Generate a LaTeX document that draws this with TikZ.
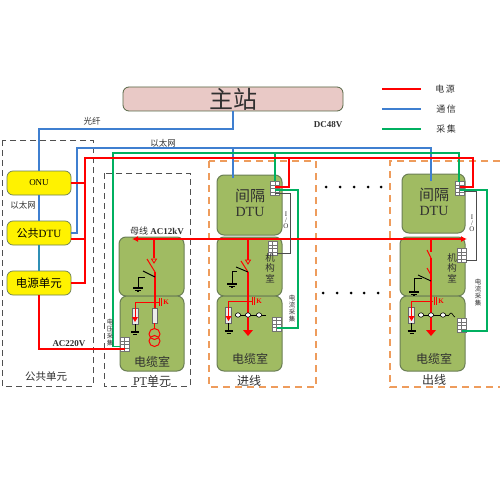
\documentclass[tikz,border=0pt]{standalone}
\usepackage{fontspec}
\setmainfont{Liberation Serif}
\newfontfamily\cjk{Noto Sans CJK SC}
\usetikzlibrary{arrows.meta,calc}
\definecolor{cred}{HTML}{FF0000}
\definecolor{cblue}{HTML}{3F7FD0}
\definecolor{cteal}{HTML}{2F8FB5}
\definecolor{cgreen}{HTML}{00B060}
\definecolor{cpink}{HTML}{E9C9C6}
\definecolor{croom}{HTML}{A0BB62}
\definecolor{croomd}{HTML}{6B7F55}
\definecolor{corange}{HTML}{EE9C5C}
\definecolor{cdash}{HTML}{505050}
\definecolor{ctxt}{HTML}{303030}
\tikzset{
  x=1pt,y=-1pt,
  lab/.style={inner sep=0pt,text=ctxt,font=\cjk\fontsize{#1}{#1}\selectfont},
  lab/.default=9,
  lat/.style={inner sep=0pt,text=ctxt,font=\bfseries\fontsize{#1}{#1}\selectfont},
  lat/.default=9,
  ybox/.style={draw=croomd,fill=yellow,rounded corners=6pt,inner sep=0pt,minimum width=64pt,minimum height=24pt,text=black,line width=.7pt},
  room/.style={draw=croomd,fill=croom,rounded corners=7pt,line width=1pt},
  master/.style={draw=croomd!80!black,fill=cpink,rounded corners=6pt,line width=.8pt,inner sep=0pt,minimum width=220pt,minimum height=24pt},
  grp/.style={draw=cdash,dash pattern=on 6pt off 4pt,line width=1pt},
  ogrp/.style={draw=corange,dash pattern=on 7pt off 5pt,line width=1.2pt},
  rl/.style={draw=cred,line width=1.5pt},
  rlthin/.style={draw=cred,line width=1pt},
  bl/.style={draw=cblue,line width=1.4pt},
  gl/.style={draw=cgreen,line width=1.4pt},
  gyl/.style={draw=black!70,line width=.9pt},
  blk/.style={draw=black,line width=.9pt},
  tblock/.style={draw=black!55,fill=white,inner sep=0pt,minimum width=9pt,minimum height=14pt,line width=.5pt,
    path picture={
      \foreach \f in {.25,.5,.75}{
        \draw[black!55,line width=1pt] ($(path picture bounding box.north west)!\f!(path picture bounding box.south west)$) -- ($(path picture bounding box.north east)!\f!(path picture bounding box.south east)$);}
      \draw[black!55,line width=1pt] (path picture bounding box.north) -- (path picture bounding box.south);
    }},
  arr/.style={draw=black!60,fill=black!8,line width=.7pt},
  ball/.style={draw=black,fill=white,line width=.6pt},
  dotn/.style={circle,fill=black,inner sep=0pt,minimum size=3pt}
}
\newcommand{\gnd}[2]{%
  \draw[blk,line width=1.1pt] (#1-5,#2) -- (#1+5,#2);
  \draw[blk] (#1-3,#2+2) -- (#1+3,#2+2);
  \draw[blk] (#1-1,#2+3.5) -- (#1+1,#2+3.5);}
\newcommand{\arrester}[3]{% x, top, bottom
  \draw[arr] (#1-3,#2) rectangle (#1+3,#3);
  \fill[cred] (#1-3,#2+9) -- (#1+3,#2+9) -- (#1,#2+14) -- cycle;
  \draw[rlthin] (#1,#2-6) -- (#1,#2+10);
  \draw[blk] (#1,#3) -- (#1,#3+8);
  \draw[blk,line width=1.1pt] (#1-4,#3+8) -- (#1+4,#3+8);
  \draw[blk] (#1-2,#3+10) -- (#1+2,#3+10);}
\newcommand{\ikmark}[2]{%
  \draw[rlthin] (#1,#2-4) -- (#1,#2+4);
  \draw[rlthin] (#1+2.5,#2-4) -- (#1+2.5,#2+4);
  \node[inner sep=0pt,text=cred,font=\bfseries\fontsize{7}{7}\selectfont] (ik#1) at (#1+7,#2) {K};}
\newcommand{\ballrow}[1]{%
  \foreach \bx in {#1}{\draw[ball] (\bx,315) ellipse (2.6pt and 2.2pt);}}
\begin{document}
\begin{tikzpicture}
\useasboundingbox (0,0) rectangle (500,500);
\fill[white] (0,0) rectangle (500,500);

% groups
\draw[grp] (2,140) rectangle (93,386);
\draw[grp] (104,173) rectangle (190,386);
\draw[ogrp] (209,161) rectangle (316,387);
\draw[ogrp] (500,161) -- (390,161) -- (390,387) -- (500,387);

% rooms
\node[master] (ms) at (233,99) {\cjk\fontsize{24}{24}\selectfont\textcolor{ctxt}{主站}};
\node[ybox] (onu) at (39,183) {\fontsize{9}{9}\selectfont ONU};
\node[ybox] (pdtu) at (39,233) {\fontsize{11}{11}\selectfont{\cjk 公共}DTU};
\node[ybox] (psu) at (39,283) {\cjk\fontsize{11.5}{11.5}\selectfont 电源单元};

\draw[room] (119,237) rectangle (184,296);
\draw[room] (120,296) rectangle (184,371);
\draw[room] (217,175) rectangle (282,235);
\draw[room] (217,237) rectangle (282,296);
\draw[room] (217,296) rectangle (282,371);
\draw[room] (402,174) rectangle (465,233);
\draw[room] (400,237) rectangle (465,296);
\draw[room] (400,296) rectangle (465,371);

% terminal blocks
\node[tblock] (tpt) at (124.5,344.5) {};
\node[tblock] (t1a) at (275,188.5) {};
\node[tblock] (t1b) at (272.5,248.5) {};
\node[tblock] (t1c) at (276.5,324) {};
\node[tblock] (t2a) at (459.5,188.5) {};
\node[tblock] (t2b) at (461.5,255.5) {};
\node[tblock] (t2c) at (461.5,325.5) {};

% named junctions
\coordinate (dtu1) at (233,178);
\coordinate (dtu2) at (431,181);

% blue
\draw[bl] (onu.north) |- (233,129) -- (ms.south);
\draw[bl] (pdtu.east) -- (77,233) -- (77,148) -- (431,148) -- (dtu2);
\draw[bl] (233,148) -- (dtu1);
\draw[draw=cblue,line width=1.4pt] (onu.south) -- (pdtu.north);
\draw[draw=cteal,line width=1.4pt] (pdtu.south) -- (psu.north);

% green
\draw[gl] (tpt.west |- 0,346.5) -- (113,346.5) -- (113,153) -- (459,153) -- (459,182);
\draw[gl] (275,153) -- (t1a.north);
\draw[gl] (t1a.center |- 0,190) -- (298,190) -- (298,328) -- (t1c.center |- 0,328);
\draw[gl] (t2a.center |- 0,190) -- (487,190) -- (487,331) -- (t2c.center |- 0,331);

% red
\draw[rl,line width=1.8pt] (psu.east) -- (85,283) -- (85,158) -- (473,158) -- (473,187) -- (t2a.center |- 0,187);
\draw[rl,line width=1.8pt] (289,158) -- (289,187) -- (t1a.center |- 0,187);
\draw[rl] (onu.east) -- (85,183);
\draw[rl] (pdtu.east |- 0,239) -- (85,239);
\draw[rl] (psu.south) -- (39,349) -- (tpt.center |- 0,349);

% bus
\draw[rl,-{Latex[length=6pt,width=6pt]}] (193,239) -- (132,239);
\draw[rl,-{Latex[length=6pt,width=6pt]}] (193,239) -- (467,239);

% grey I/O wires
\draw[gyl] (t1a.center |- 0,193) -- (290,193) -- (290,253) -- (t1b.east |- 0,253);
\draw[gyl] (t2a.east |- 0,191) -- (476.5,191) -- (476.5,260) -- (t2b.east |- 0,260);

% PT cell
\draw[rlthin,line width=1.2pt] (154,239) -- (154,258);
\draw[cred,line width=.8pt,fill=croom] (151.5,259) -- (156.5,259) -- (154,263) -- cycle;
\draw[cred,line width=1pt] (147,259) -- (155,272);
\draw[rlthin,line width=1.2pt] (155,272) -- (155,308);
\draw[blk] (143,271) -- (155,277);
\draw[blk] (145,277) -- (138,277) -- (138,287);
\gnd{138}{288}
\draw[rlthin] (135,302) -- (159,302);
\ikmark{159}{302}
\arrester{135}{308}{324}
\draw[arr] (152,308) rectangle (157.5,323);
\draw[rlthin] (154.5,323) -- (154.5,328);
\draw[cred,line width=1pt] (154.5,334) circle (5.5pt);
\draw[cred,line width=1pt] (154.5,341) circle (5.5pt);

% incoming cell
\draw[rlthin,line width=1.2pt] (248,239) -- (248,260);
\draw[cred,line width=.8pt,fill=croom] (245.5,260) -- (250.5,260) -- (248,264) -- cycle;
\draw[cred,line width=1pt] (241,261) -- (248,272);
\draw[rlthin,line width=1.2pt] (248,272) -- (248,330);
\fill[cred] (243,330) -- (253,330) -- (248,336) -- cycle;
\draw[blk] (236,267) -- (248,272);
\draw[blk] (237,271) -- (232,271) -- (232,283);
\gnd{232}{284}
\draw[rlthin] (228,301) -- (252,301);
\ikmark{252}{301}
\arrester{228.5}{307}{323}
\draw[black,line width=.7pt] (235,315) -- (266,315);
\ballrow{238,248,259}

% outgoing cell
\draw[rlthin,line width=1.2pt] (431,239) -- (431,252);
\draw[cred,line width=1pt] (427,250) -- (431,258);
\draw[rlthin,line width=1.2pt] (431,258) -- (431,330);
\draw[cred,line width=1pt] (427,268) -- (431,275);
\fill[cred] (426,330) -- (436,330) -- (431,336) -- cycle;
\draw[blk] (418,275) -- (431,281);
\draw[blk] (422,278) -- (414,278) -- (414,292);
\gnd{414}{292}
\draw[rlthin] (412,301) -- (433,301);
\ikmark{434}{301}
\arrester{411.5}{307}{323}
\draw[black,line width=.7pt] (418,315) -- (449,315);
\draw[black,line width=.6pt] (449,315) sin (451,313) cos (453,315) sin (455,317);
\ballrow{421,431,443}

% labels
\node[lab=8.5] (lfib) at (92,121) {光纤};
\node[lab=8.5] (leth) at (163,143) {以太网};
\node[lab=8.5] (leth2) at (23,205) {以太网};
\node[lat=9] (ldc) at (328,125) {DC48V};
\node[lat=9] (l220) at (69,344) {AC220V};
\node[inner sep=0pt,text=ctxt,font=\fontsize{9}{9}\selectfont] (lbus) at (157,231) {{\cjk 母线} \textbf{AC12kV}};
\node[lab=10.5] (lpub) at (46,377) {公共单元};
\node[inner sep=0pt,text=ctxt,font=\fontsize{12}{12}\selectfont] (lpt) at (152,381) {PT{\cjk 单元}};
\node[lab=12] (lin) at (249,381) {进线};
\node[lab=12] (lout) at (434,380) {出线};
\node[lab=12] (lr1) at (152,362) {电缆室};
\node[lab=12] (lr2) at (250,359) {电缆室};
\node[lab=12] (lr3) at (434,359) {电缆室};
\node[inner sep=0pt,align=center,text=ctxt] (ld1) at (250,203) {{\cjk\fontsize{15}{15}\selectfont 间隔}\\[3pt]{\fontsize{14}{14}\selectfont DTU}};
\node[inner sep=0pt,align=center,text=ctxt] (ld2) at (434,202) {{\cjk\fontsize{15}{15}\selectfont 间隔}\\[3pt]{\fontsize{14}{14}\selectfont DTU}};

% vertical labels
\node[lab=9.5,align=center] (m1) at (270,268) {机\\[1pt]构\\[1pt]室};
\node[lab=9.5,align=center] (m2) at (452,268) {机\\[1pt]构\\[1pt]室};
\node[lab=6.5,align=center] (c1) at (292,308.5) {电\\[.5pt]流\\[.5pt]采\\[.5pt]集};
\node[lab=6.5,align=center] (c2) at (478,292.5) {电\\[.5pt]流\\[.5pt]采\\[.5pt]集};
\node[lab=6.5,align=center] (c3) at (110,332.5) {电\\[.5pt]压\\[.5pt]采\\[.5pt]集};
\node[inner sep=0pt,align=center,text=ctxt,font=\fontsize{7}{7}\selectfont] (io1) at (286,220) {I\\[-1pt]/\\[-1pt]O};
\node[inner sep=0pt,align=center,text=ctxt,font=\fontsize{7}{7}\selectfont] (io2) at (472,223.5) {I\\[-1pt]/\\[-1pt]O};

% legend
\coordinate (k1a) at (382,89); \coordinate (k1b) at (421,89);
\coordinate (k2a) at (382,109); \coordinate (k2b) at (421,109);
\coordinate (k3a) at (382,129); \coordinate (k3b) at (421,129);
\draw[rl] (k1a) -- (k1b);
\draw[bl] (k2a) -- (k2b);
\draw[gl,line width=1.2pt] (k3a) -- (k3b);
\node[lab=9] (t1) at (445,89) {电\,源};
\node[lab=9] (t2) at (446,109) {通\,信};
\node[lab=9] (t3) at (446,129) {采\,集};

% dots
\foreach \dx in {326,340,354,368,381}{\node[dotn] at (\dx,187) {};}
\foreach \dx in {323,337,351,364,378}{\node[dotn] at (\dx,293) {};}
\end{tikzpicture}
\end{document}
